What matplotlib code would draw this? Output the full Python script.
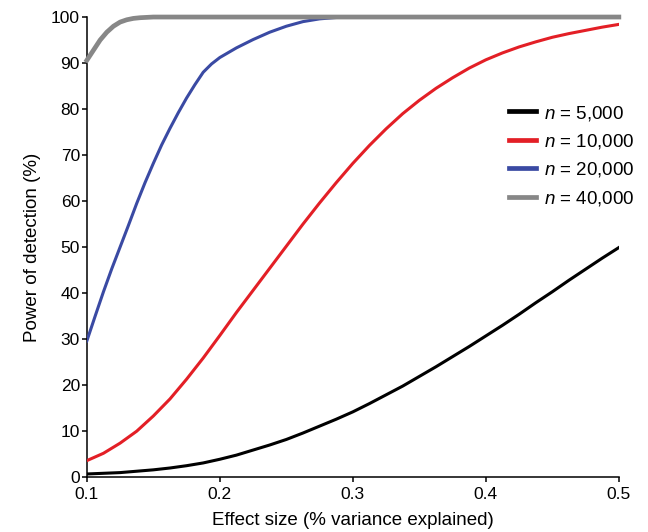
import matplotlib
matplotlib.use("Agg")
import matplotlib.pyplot as plt

plt.rcParams['font.family'] = ['Liberation Sans', 'DejaVu Sans']
plt.rcParams['mathtext.fontset'] = 'custom'
plt.rcParams['mathtext.it'] = 'Liberation Sans:italic'
plt.rcParams['mathtext.rm'] = 'Liberation Sans'

# Power curves (effect size in % variance explained)
x_5k = [0.1, 0.1125, 0.125, 0.1375, 0.15, 0.1625, 0.175, 0.1875, 0.2, 0.2125,
        0.225, 0.2375, 0.25, 0.2625, 0.275, 0.2875, 0.3, 0.3125, 0.325, 0.3375,
        0.35, 0.3625, 0.375, 0.3875, 0.4, 0.4125, 0.425, 0.4375, 0.45, 0.4625,
        0.475, 0.4875, 0.5]
power_5k = [0.7, 0.85, 1.0, 1.3, 1.6, 2.0, 2.5, 3.1, 3.9, 4.8,
            5.9, 7.0, 8.2, 9.6, 11.1, 12.6, 14.2, 16.0, 17.9, 19.8,
            21.9, 24.0, 26.2, 28.4, 30.7, 33.0, 35.4, 37.9, 40.3, 42.8,
            45.2, 47.6, 49.9]

x_10k = x_5k
power_10k = [3.6, 5.2, 7.4, 10.0, 13.3, 17.0, 21.3, 25.9, 30.8, 35.8,
             40.6, 45.4, 50.2, 55.0, 59.6, 64.0, 68.2, 72.1, 75.7, 79.0,
             81.9, 84.5, 86.8, 88.9, 90.7, 92.2, 93.5, 94.6, 95.6, 96.4,
             97.1, 97.8, 98.4]

x_20k = [0.1, 0.10625, 0.1125, 0.11875, 0.125, 0.13125, 0.1375, 0.14375, 0.15,
         0.15625, 0.1625, 0.16875, 0.175, 0.18125, 0.1875, 0.19375, 0.2,
         0.2125, 0.225, 0.2375, 0.25, 0.2625, 0.275, 0.2875, 0.3, 0.5]
power_20k = [29.6, 35.0, 40.3, 45.3, 50.0, 54.7, 59.5, 64.0, 68.2,
             72.2, 75.8, 79.2, 82.4, 85.3, 88.0, 89.8, 91.2,
             93.3, 95.1, 96.7, 98.0, 99.0, 99.6, 99.9, 100.0, 100.0]

x_40k = [0.1, 0.105, 0.11, 0.115, 0.12, 0.125, 0.13, 0.135, 0.14, 0.15, 0.16, 0.5]
power_40k = [90.6, 92.8, 95.0, 96.7, 98.0, 98.9, 99.4, 99.7, 99.85, 100.0, 100.0, 100.0]

labels = ['$n$ = 5,000', '$n$ = 10,000', '$n$ = 20,000', '$n$ = 40,000']
colors = ['#000000', '#e31f26', '#3a4aa3', '#878787']

fig = plt.figure(figsize=(6.48, 5.32), dpi=100)
ax = fig.add_axes([0.134, 0.103, 0.821, 0.865])

ax.plot(x_5k, power_5k, color=colors[0], lw=2.2, label=labels[0], zorder=3)
ax.plot(x_10k, power_10k, color=colors[1], lw=2.2, label=labels[1], zorder=3)
ax.plot(x_20k, power_20k, color=colors[2], lw=2.2, label=labels[2], zorder=3)
ax.plot(x_40k, power_40k, color=colors[3], lw=3.4, label=labels[3], zorder=4,
        clip_on=False)

ax.set_xlim(0.1, 0.5)
ax.set_ylim(0, 100)
ax.set_xticks([0.1, 0.2, 0.3, 0.4, 0.5])
ax.set_xticklabels(['0.1', '0.2', '0.3', '0.4', '0.5'])
ax.set_yticks(range(0, 101, 10))

for side in ['top', 'right']:
    ax.spines[side].set_visible(False)
for side in ['left', 'bottom']:
    ax.spines[side].set_linewidth(1.1)
ax.tick_params(direction='out', length=3.5, width=1.1, labelsize=12.5)
ax.tick_params(axis='x', pad=3.5)
ax.tick_params(axis='y', pad=1.5)

ax.set_xlabel('Effect size (% variance explained)', fontsize=13.5, labelpad=7)
ax.set_ylabel('Power of detection (%)', fontsize=13.5, labelpad=7)

leg = ax.legend(loc='upper left', bbox_to_anchor=(0.793, 0.812), frameon=False,
                fontsize=13.5, handlelength=1.45, handletextpad=0.45,
                labelspacing=0.5, borderpad=0, borderaxespad=0)
for line in leg.get_lines():
    line.set_linewidth(3.4)

fig.savefig('out.png', dpi=100)
